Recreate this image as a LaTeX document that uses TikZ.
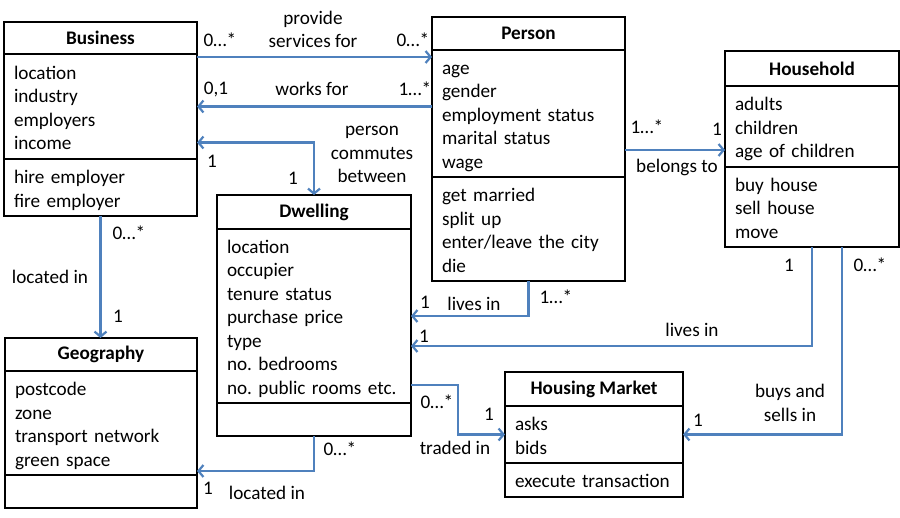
\documentclass[tikz,border=0pt]{standalone}
\usepackage{fontspec}
\setmainfont{Carlito}
\usepackage{tikz}
\usetikzlibrary{arrows.meta, positioning}
\definecolor{umlblue}{RGB}{79,129,189}
\newcommand{\umlfont}{\fontsize{19.2}{23.5}\selectfont\frenchspacing}
\newcommand{\umlstrut}{\rule[-4pt]{0pt}{23.5pt}}
\tikzset{
  clsbox/.style={rectangle, draw=black, line width=1.5pt, outer sep=0pt,
    inner xsep=10pt, inner ysep=0pt, font=\umlfont},
  clshead/.style={clsbox, align=center, font=\umlfont\bfseries, anchor=north west},
  clsbody/.style={clsbox, align=left, below=0pt of #1,
    execute at begin node=\umlstrut, execute at end node=\umlstrut},
  assoc/.style={-{Straight Barb[length=5pt, width=12pt, line width=2.2pt]},
    line width=2.8pt, color=umlblue},
  bothassoc/.style={{Straight Barb[length=5pt, width=12pt, line width=2.2pt]}-{Straight Barb[length=5pt, width=12pt, line width=2.2pt]},
    line width=2.8pt, color=umlblue},
  lbl/.style={font=\umlfont, inner sep=0pt, align=center}
}

\begin{document}
\begin{tikzpicture}[x=1pt, y=-1pt]
  \useasboundingbox (0,0) rectangle (900,517);

  % Business
  \node[clshead, minimum width=193, minimum height=32] (busH) at (4,22) {Business};
  \node[clsbody=busH, text width=173, minimum height=105] (busA) {location\\industry\\employers\\income};
  \node[clsbody=busA, text width=173, minimum height=57] (busO) {hire employer\\fire employer};

  % Person
  \node[clshead, minimum width=193, minimum height=33] (perH) at (432,17) {Person};
  \node[clsbody=perH, text width=173, minimum height=127] (perA) {age\\gender\\employment status\\marital status\\wage};
  \node[clsbody=perA, text width=173, minimum height=104] (perO) {get married\\split up\\enter/leave the city\\die};

  % Household
  \node[clshead, minimum width=174, minimum height=35] (hhH) at (725,51) {Household};
  \node[clsbody=hhH, text width=154, minimum height=81] (hhA) {adults\\children\\age of children};
  \node[clsbody=hhA, text width=154, minimum height=80] (hhO) {buy house\\sell house\\move};

  % Dwelling
  \node[clshead, minimum width=194, minimum height=34] (dwlH) at (217,195) {Dwelling};
  \node[clsbody=dwlH, text width=174, minimum height=174] (dwlA) {location\\occupier\\tenure status\\purchase price\\type\\no. bedrooms\\no. public rooms etc.};
  \node[clsbody=dwlA, text width=174, minimum height=33] (dwlO) {};

  % Geography
  \node[clshead, minimum width=192, minimum height=33] (geoH) at (5,338) {Geography};
  \node[clsbody=geoH, text width=172, minimum height=104] (geoA) {postcode\\zone\\transport network\\green space};
  \node[clsbody=geoA, text width=172, minimum height=33] (geoO) {};

  % Housing Market
  \node[clshead, minimum width=178, minimum height=34] (hmH) at (505,372) {Housing Market};
  \node[clsbody=hmH, text width=158, minimum height=57] (hmA) {asks\\bids};
  \node[clsbody=hmA, text width=158, minimum height=34] (hmO) {execute transaction};

  % Associations
  \draw[assoc] ([yshift=-3pt]busA.north east) coordinate (sv) -- (sv -| perA.west);
  \draw[assoc] (perA.west |- busA.east) -- (busA.east);
  \draw[bothassoc] ([yshift=-36pt]busA.east) -| (dwlH.north);
  \draw[assoc] ([yshift=-36.5pt]perA.east) coordinate (bl) -- (bl -| hhA.west);
  \draw[assoc] (busO.south) -- (busO.south |- geoH.north);
  \draw[assoc] (perO.south) |- (dwlA.east);
  \draw[assoc] (hhO.south) |- ([yshift=-30pt]dwlA.east);
  \draw[assoc] ([xshift=30pt]hhO.south) |- (hmA.east);
  \draw[assoc] ([yshift=-69pt]dwlA.east) -- ++(47,0) |- (hmA.west);
  \draw[assoc] (dwlO.south) |- ([yshift=4pt]geoA.south east);

  % Labels
  \node[lbl] (svA) at (220,40) {0…*};
  \node[lbl] (svB) at (413,40) {0…*};
  \node[lbl] (svT) at (313,29.5) {provide\\services for};
  \node[lbl] (wfA) at (216,89) {0,1};
  \node[lbl] (wfT) at (312,89) {works for};
  \node[lbl] (wfB) at (415,89) {1…*};
  \node[lbl] (cmA) at (212,161) {1};
  \node[lbl] (cmB) at (293,178) {1};
  \node[lbl] (cmT) at (372,154.5) {person\\commutes\\between};
  \node[lbl] (blA) at (647,127) {1…*};
  \node[lbl] (blB) at (717,129) {1};
  \node[lbl] (blT) at (677,167) {belongs to};
  \node[lbl] (liA) at (129,233) {0…*};
  \node[lbl] (liT) at (50,277) {located in};
  \node[lbl] (liB) at (118,316) {1};
  \node[lbl] (lpA) at (425,302) {1};
  \node[lbl] (lpT) at (474,304) {lives in};
  \node[lbl] (lpB) at (556,297) {1…*};
  \node[lbl] (lhA) at (789,265) {1};
  \node[lbl] (bsA) at (870,265) {0…*};
  \node[lbl] (lhT) at (692,330) {lives in};
  \node[lbl] (lhB) at (424,336) {1};
  \node[lbl] (bsT) at (790,403) {buys and\\sells in};
  \node[lbl] (bsB) at (698,420) {1};
  \node[lbl] (trA) at (437,402) {0…*};
  \node[lbl] (trB) at (489,414) {1};
  \node[lbl] (trT) at (455,448) {traded in};
  \node[lbl] (lgA) at (340,449) {0…*};
  \node[lbl] (lgB) at (208,488) {1};
  \node[lbl] (lgT) at (267,493) {located in};
\end{tikzpicture}
\end{document}
